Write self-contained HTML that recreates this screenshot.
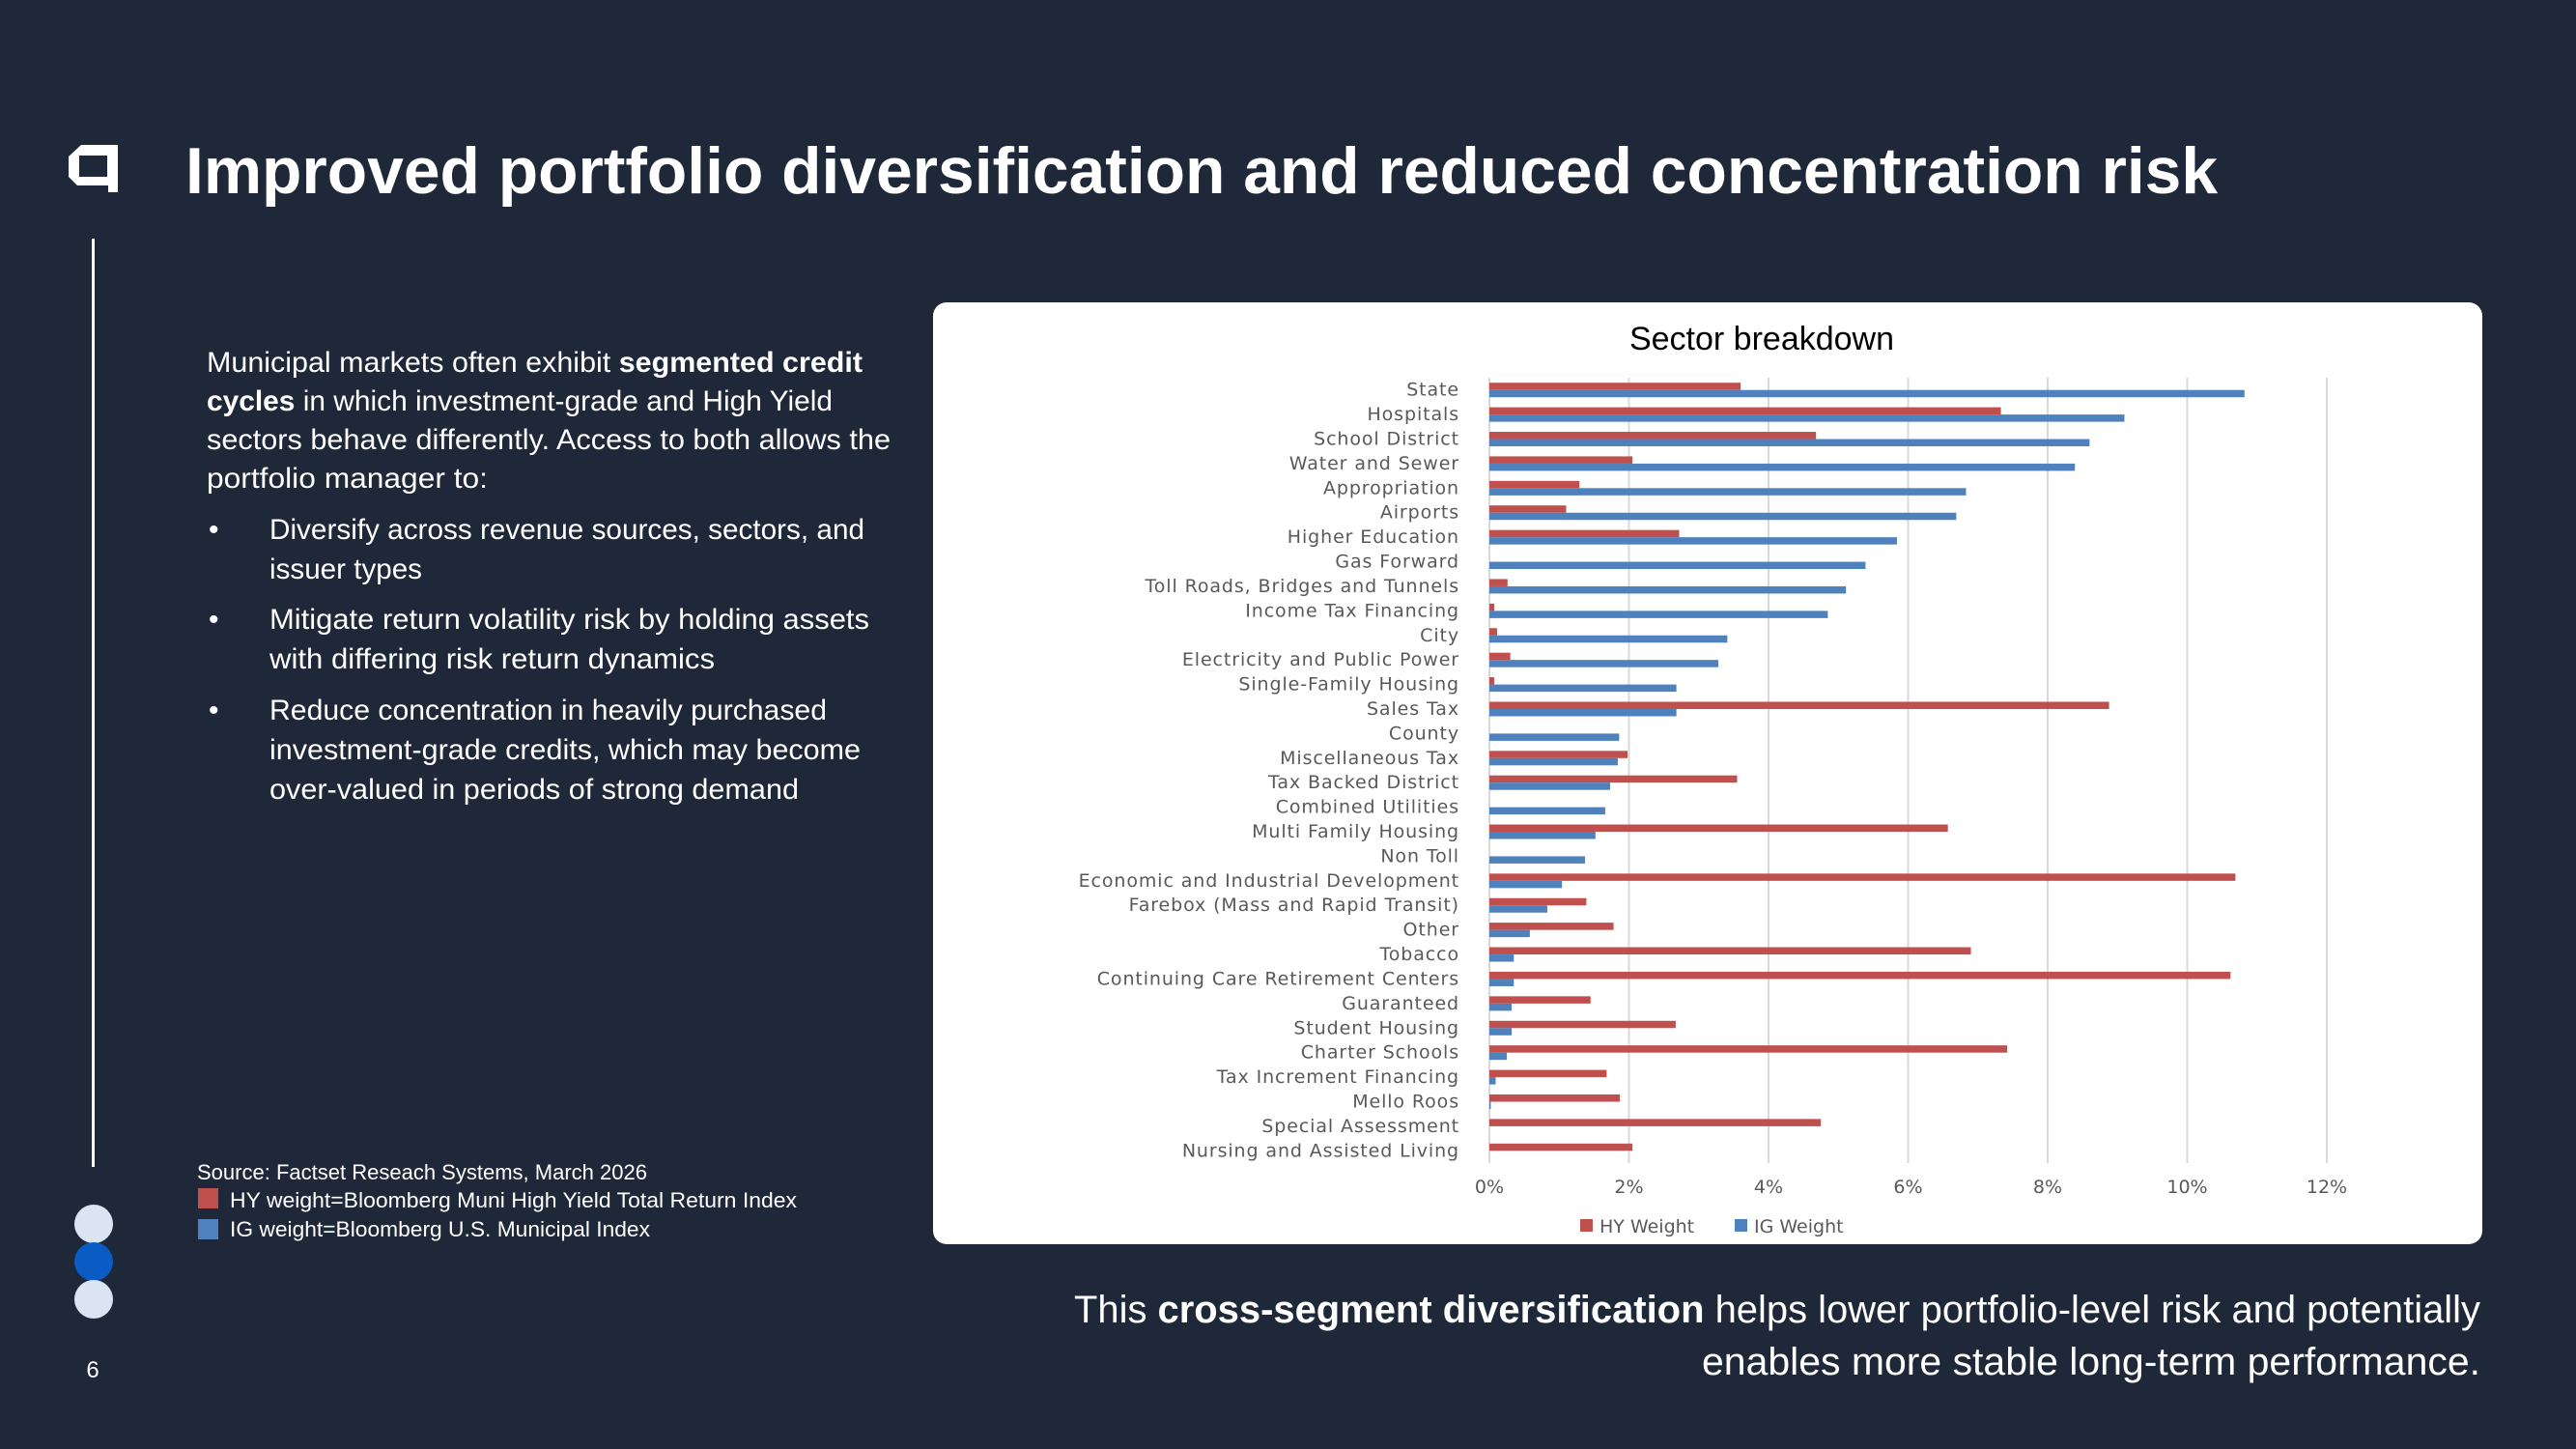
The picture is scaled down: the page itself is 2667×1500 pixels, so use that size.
<!DOCTYPE html>
<html><head><meta charset="utf-8"><style>
html,body{margin:0;padding:0;background:#1e2839;}
svg{display:block;font-family:"Liberation Sans",sans-serif;}
</style></head><body>
<svg id="page" width="2667" height="1500" viewBox="0 0 2667 1500" xmlns="http://www.w3.org/2000/svg">
<rect x="0" y="0" width="2667" height="1500" fill="#1e2839"/>
<g>
<path d="M84 150 L122 150 L122 199 L112 199 L112 192 L80 192 L71 183 L71 162 Z" fill="#ffffff"/>
<rect x="82" y="161" width="29" height="22" fill="#1e2839"/>
</g>
<text x="192" y="200" font-size="68" font-weight="bold" fill="#ffffff" textLength="2104" lengthAdjust="spacingAndGlyphs">Improved portfolio diversification and reduced concentration risk</text>
<rect x="95" y="247" width="3" height="961" fill="#ffffff"/>
<g font-size="30" fill="#ffffff">
<text x="214" y="385" textLength="679" lengthAdjust="spacingAndGlyphs">Municipal markets often exhibit <tspan font-weight="bold">segmented credit</tspan></text>
<text x="214" y="425" textLength="648" lengthAdjust="spacingAndGlyphs"><tspan font-weight="bold">cycles</tspan> in which investment-grade and High Yield</text>
<text x="214" y="465" textLength="708" lengthAdjust="spacingAndGlyphs">sectors behave differently. Access to both allows the</text>
<text x="214" y="505" textLength="291" lengthAdjust="spacingAndGlyphs">portfolio manager to:</text>
<text x="216" y="558">•</text>
<text x="279" y="558" textLength="616" lengthAdjust="spacingAndGlyphs">Diversify across revenue sources, sectors, and</text>
<text x="279" y="599" textLength="158" lengthAdjust="spacingAndGlyphs">issuer types</text>
<text x="216" y="651">•</text>
<text x="279" y="651" textLength="621" lengthAdjust="spacingAndGlyphs">Mitigate return volatility risk by holding assets</text>
<text x="279" y="692" textLength="461" lengthAdjust="spacingAndGlyphs">with differing risk return dynamics</text>
<text x="216" y="745">•</text>
<text x="279" y="745" textLength="577" lengthAdjust="spacingAndGlyphs">Reduce concentration in heavily purchased</text>
<text x="279" y="786" textLength="612" lengthAdjust="spacingAndGlyphs">investment-grade credits, which may become</text>
<text x="279" y="827" textLength="548" lengthAdjust="spacingAndGlyphs">over-valued in periods of strong demand</text>
</g>
<g font-size="22" fill="#ffffff">
<text x="204" y="1221" textLength="466" lengthAdjust="spacingAndGlyphs">Source: Factset Reseach Systems, March 2026</text>
<rect x="205" y="1230" width="21" height="21" fill="#c0504d"/>
<text x="238" y="1250" textLength="587" lengthAdjust="spacingAndGlyphs">HY weight=Bloomberg Muni High Yield Total Return Index</text>
<rect x="205" y="1262" width="21" height="21" fill="#4f81bd"/>
<text x="238" y="1280" textLength="435" lengthAdjust="spacingAndGlyphs">IG weight=Bloomberg U.S. Municipal Index</text>
</g>
<g>
<ellipse cx="97" cy="1267" rx="20" ry="20" fill="#dbe5f1"/>
<ellipse cx="97" cy="1306" rx="20" ry="20" fill="#0a5bc4"/>
<ellipse cx="97" cy="1345" rx="20" ry="20" fill="#dbe5f1"/>
</g>
<text x="96" y="1426" font-size="24" fill="#ffffff" text-anchor="middle">6</text>
<rect x="966" y="313" width="1604" height="975" rx="14" fill="#ffffff"/>
<text x="1824" y="362" font-size="34" fill="#000000" text-anchor="middle">Sector breakdown</text>
<g id="chart" style="font-family:'DejaVu Sans',sans-serif"></g>
<g font-size="40" fill="#ffffff">
<text x="2568" y="1369" text-anchor="end" textLength="1456" lengthAdjust="spacingAndGlyphs">This <tspan font-weight="bold">cross-segment diversification</tspan> helps lower portfolio-level risk and potentially</text>
<text x="2568" y="1423" text-anchor="end" textLength="806" lengthAdjust="spacingAndGlyphs">enables more stable long-term performance.</text>
</g>
</svg>
<script>
const categories = ["State","Hospitals","School District","Water and Sewer","Appropriation","Airports","Higher Education","Gas Forward","Toll Roads, Bridges and Tunnels","Income Tax Financing","City","Electricity and Public Power","Single-Family Housing","Sales Tax","County","Miscellaneous Tax","Tax Backed District","Combined Utilities","Multi Family Housing","Non Toll","Economic and Industrial Development","Farebox (Mass and Rapid Transit)","Other","Tobacco","Continuing Care Retirement Centers","Guaranteed","Student Housing","Charter Schools","Tax Increment Financing","Mello Roos","Special Assessment","Nursing and Assisted Living"];
const hyWeight = [3.6,7.33,4.68,2.05,1.29,1.1,2.72,0,0.26,0.07,0.11,0.3,0.07,8.88,0,1.98,3.55,0,6.57,0,10.69,1.39,1.78,6.9,10.62,1.45,2.67,7.42,1.68,1.87,4.75,2.05];
const igWeight = [10.82,9.1,8.6,8.39,6.83,6.69,5.84,5.39,5.11,4.85,3.41,3.28,2.68,2.68,1.86,1.84,1.73,1.66,1.52,1.37,1.04,0.83,0.58,0.35,0.35,0.32,0.32,0.25,0.09,0.02,0,0];
const xTicks = [0,2,4,6,8,10,12];
const seriesNames = ["HY Weight","IG Weight"];

const NS = "http://www.w3.org/2000/svg";
const g = document.getElementById('chart');
const X0 = 1542, X1 = 2409, Y0 = 391, Y1 = 1204, XMAX = 12;
const band = (Y1 - Y0) / categories.length;
function xs(v){ return X0 + (v / XMAX) * (X1 - X0); }
function ys(i){ return Y0 + band * i + band / 2; }
function mk(tag, attrs){ const e = document.createElementNS(NS, tag); for (const k in attrs) e.setAttribute(k, attrs[k]); g.appendChild(e); return e; }

xTicks.forEach(t => {
  const l = mk('line', {x1: xs(t), x2: xs(t), y1: Y0, y2: Y1, stroke: '#d9d9d9', 'stroke-width': 2});
  
  
  const tx = mk('text', {x: xs(t), y: 1235, 'font-size': 19, fill: '#595959', 'text-anchor': 'middle'});
  tx.textContent = t + '%';
  
  
});

const bh = 7.5;
categories.forEach((c, i) => {
  const cy = ys(i);
  const lab = mk('text', {x: 1511, y: cy + 6, 'font-size': 19, fill: '#595959', 'text-anchor': 'end', 'letter-spacing': '0.9'});
  lab.textContent = c;
  
  
  const r1 = mk('rect', {x: xs(0), y: cy - bh, width: Math.max(0, xs(hyWeight[i]) - xs(0)), height: bh, fill: '#c0504d'});
  
  
  const r2 = mk('rect', {x: xs(0), y: cy, width: Math.max(0, xs(igWeight[i]) - xs(0)), height: bh, fill: '#4f81bd'});
  
  
});

const legendColors = ['#c0504d', '#4f81bd'];
const legendX = [1636, 1796];
seriesNames.forEach((s, i) => {
  const sq = mk('rect', {x: legendX[i], y: 1262, width: 13, height: 13, fill: legendColors[i]});
  
  
  const t = mk('text', {x: legendX[i] + 20, y: 1276, 'font-size': 19, fill: '#595959'});
  t.textContent = s;
  
  
});
</script>
</body></html>
